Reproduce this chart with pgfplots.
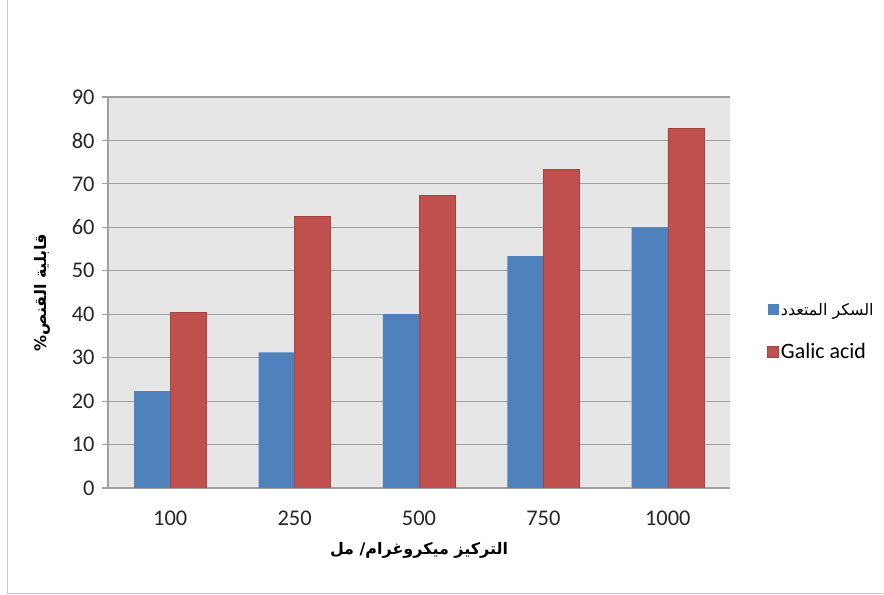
\documentclass[border=0pt]{standalone}
\usepackage{fontspec}
\usepackage{pgfplots}
\pgfplotsset{compat=1.18}
\setmainfont{Carlito}
\newfontfamily\arabicfont[Script=Arabic]{DejaVu Sans}
\TeXXeTstate=1
\definecolor{barblue}{RGB}{79,129,189}
\definecolor{barred}{RGB}{192,80,77}
\definecolor{plotbg}{RGB}{230,230,230}
\definecolor{gridc}{RGB}{160,160,160}
\begin{document}
\begin{tikzpicture}[x=1bp,y=1bp]
\path[use as bounding box] (0,0) rectangle (884,595);
\draw[gray!45, line width=1bp, fill=white] (7,1) rectangle (884.5,595.5);
\begin{axis}[
  at={(108bp,107bp)}, anchor=south west,
  scale only axis, width=622bp, height=391bp,
  ybar=0pt, bar width=0.29,
  xmin=-0.5, xmax=4.5, ymin=0, ymax=90,
  xtick=data, xticklabels={100,250,500,750,1000},
  ytick={0,10,...,90},
  axis background/.style={fill=plotbg},
  axis x line=bottom, axis y line=left,
  axis line style={-, gridc, line width=1.2bp},
  ymajorgrids, major grid style={gridc, line width=1.2bp},
  major x tick style={draw=none},
  major y tick style={gridc, line width=1.2bp},
  tick align=outside, major tick length=6bp,
  ticklabel style={font=\fontsize{22.5}{26}\selectfont, text=black!85},
  /pgf/number format/assume math mode=true,
  yticklabel style={xshift=-4bp},
  xticklabel style={yshift=-13bp},
  xlabel={\arabicfont\bfseries\fontsize{16}{19}\selectfont\beginR التركيز ميكروغرام/ مل\endR},
  ylabel={\arabicfont\bfseries\fontsize{16}{19}\selectfont\beginR قابلية القنص\%\endR},
  xlabel style={at={(axis description cs:0.5,-0.159)}, anchor=center},
  ylabel style={at={(axis description cs:-0.106,0.5)}, anchor=center},
  legend style={at={(1.055,0.40)}, anchor=west, draw=none, fill=none,
    font=\fontsize{22}{25}\selectfont, row sep=23bp, legend cell align=left},
  legend image code/.code={\fill[#1] (-3bp,-5.5bp) rectangle (8bp,5.5bp);},
]
\addplot[fill=barblue, draw=none] coordinates {(0,22.3) (1,31.2) (2,40.0) (3,53.4) (4,60.0)};
\addplot[fill=barred, draw=barred!85!black, line width=0.6bp] coordinates {(0,40.4) (1,62.5) (2,67.4) (3,73.3) (4,82.7)};
\legend{{\arabicfont\fontsize{16}{19}\selectfont\beginR السكر المتعدد\endR},{Galic acid}}
\end{axis}
\end{tikzpicture}
\end{document}
